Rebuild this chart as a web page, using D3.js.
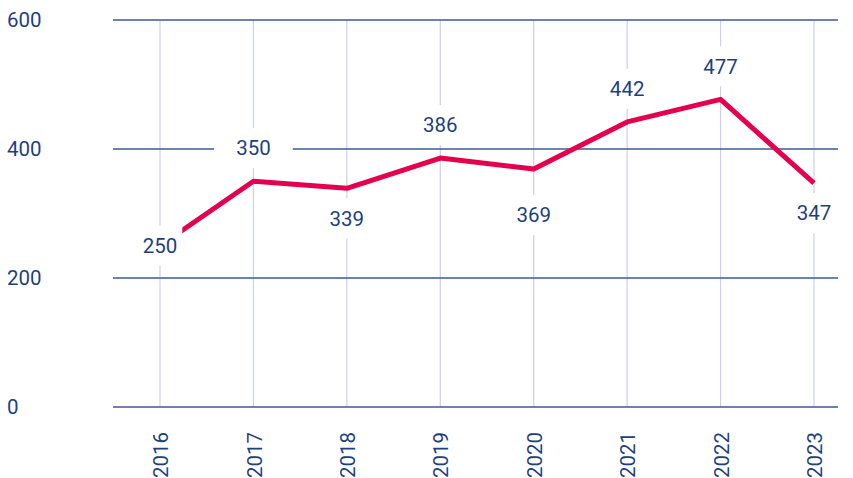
<!DOCTYPE html>
<html>
<head>
<meta charset="utf-8">
<script src="https://cdn.jsdelivr.net/npm/d3@7"></script>
<style>
  html, body { margin: 0; padding: 0; background: #fff; }
  svg { display: block; font-family: Roboto, "Noto Sans", sans-serif; }
</style>
</head>
<body>
<div id="chart"></div>
<script>
const YEARS = ['2016', '2017', '2018', '2019', '2020', '2021', '2022', '2023'],
      VALUES = [250, 350, 339, 386, 369, 442, 477, 347],
      LABEL_PLACEMENT = ['on', 'above', 'below', 'above', 'lower', 'above', 'above', 'below'],
      Y_TICKS = [0, 200, 400, 600]

const SIZE = Object.freeze({ WIDTH: 853, HEIGHT: 478 }),
      NAVY = '#1e3f7e',
      GRID = '#3d5893',
      VGRID = '#ccd0e8',
      LINE = '#e4004d',
      FONT_SIZE = '20.5px'

const svg = d3.select('#chart')
  .append('svg')
  .attr('width', SIZE.WIDTH)
  .attr('height', SIZE.HEIGHT)

const xScale = d3.scalePoint()
        .domain(YEARS)
        .range([160, 814]),
      yScale = d3.scaleLinear()
        .domain([0, 600])
        .range([407, 20])

// vertical light grid
svg.append('g')
  .selectAll('line')
  .data(YEARS)
  .join('line')
  .attr('x1', d => xScale(d))
  .attr('x2', d => xScale(d))
  .attr('y1', yScale(600))
  .attr('y2', yScale(0))
  .attr('stroke', VGRID)
  .attr('stroke-width', 1.2)

// horizontal grid
svg.append('g')
  .selectAll('line')
  .data(Y_TICKS)
  .join('line')
  .attr('x1', 113)
  .attr('x2', 838)
  .attr('y1', d => yScale(d))
  .attr('y2', d => yScale(d))
  .attr('stroke', GRID)
  .attr('stroke-width', 1.3)

// y labels
svg.append('g')
  .selectAll('text')
  .data(Y_TICKS)
  .join('text')
  .attr('x', 7)
  .attr('y', d => yScale(d))
  .attr('dy', '0.35em')
  .attr('fill', NAVY)
  .style('font-size', FONT_SIZE)
  .text(d => d)

// x labels
svg.append('g')
  .selectAll('text')
  .data(YEARS)
  .join('text')
  .attr('transform', d => `translate(${xScale(d) + 1}, 432) rotate(-90)`)
  .attr('text-anchor', 'end')
  .attr('dy', '0.35em')
  .attr('fill', NAVY)
  .style('font-size', FONT_SIZE)
  .text(d => d)

const points = YEARS.map((y, i) => ({ year: y, value: VALUES[i], place: LABEL_PLACEMENT[i] }))

svg.append('path')
  .datum(points)
  .attr('fill', 'none')
  .attr('stroke', LINE)
  .attr('stroke-width', 5)
  .attr('stroke-linejoin', 'round')
  .attr('d', d3.line().x(d => xScale(d.year)).y(d => yScale(d.value)))

const labelY = d => {
  const y = yScale(d.value)
  if (d.place === 'above') return y - 33
  if (d.place === 'below') return y + 30
  if (d.place === 'lower') return y + 46
  return y
}

const labels = svg.append('g')
  .selectAll('g')
  .data(points)
  .join('g')
  .attr('transform', d => `translate(${xScale(d.year)}, ${labelY(d)})`)

labels.append('rect')
  .attr('fill', '#fff')

labels.append('text')
  .attr('text-anchor', 'middle')
  .attr('dy', '0.35em')
  .attr('fill', NAVY)
  .style('font-size', FONT_SIZE)
  .text(d => d.value)

labels.each(function(d) {
  const g = d3.select(this),
        bb = g.select('text').node().getBBox(),
        pad = d.place === 'above' ? 22 : 5
  g.select('rect')
    .attr('x', bb.x - pad)
    .attr('y', -20)
    .attr('width', bb.width + pad * 2)
    .attr('height', 40)
})
</script>
</body>
</html>
